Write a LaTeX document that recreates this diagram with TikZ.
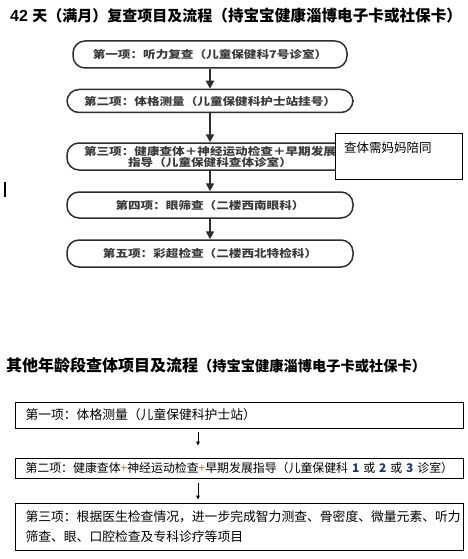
\documentclass[tikz,border=0pt]{standalone}
\usepackage{fontspec}
\setmainfont{Liberation Sans}
\newfontfamily\cjk{Noto Sans CJK SC}
\newfontfamily\cjkwide[FakeStretch=1.2]{Noto Sans CJK SC}
\usetikzlibrary{arrows.meta}
\definecolor{boxgray}{HTML}{2E2E2E}
\definecolor{textgray}{HTML}{3A3A3A}
\definecolor{plusorange}{HTML}{E46C0A}
\definecolor{numblue}{HTML}{1F3864}
\begin{document}
\begin{tikzpicture}[x=1pt,y=-1pt,
  rbox/.style={draw=boxgray, line width=1.5pt, rounded corners=12pt, minimum height=27pt,
    inner sep=0pt, text=textgray, align=center,
    font=\cjkwide\bfseries\fontsize{10.5}{11}\selectfont},
  tarrow/.style={draw=boxgray, line width=2pt, -{Triangle[length=8pt,width=8pt]}},
  sbox/.style={draw=black, line width=0.9pt, text width=428pt, inner xsep=10pt, inner ysep=0pt,
    minimum width=445pt, align=left, font=\cjk\fontsize{12.8}{20}\selectfont},
  sarrow/.style={draw=black, line width=0.8pt, -{Triangle[length=4pt,width=3.5pt]}}
]
\useasboundingbox (0,0) rectangle (467,559);

% title 1
\node[anchor=west, inner sep=0pt] (t1) at (10,16)
  {{\fontsize{16}{18}\selectfont\bfseries 42 }{\cjk\bfseries\fontsize{15}{18}\selectfont 天（满月）复查项目及流程}{\cjk\bfseries\fontsize{15.6}{18}\selectfont （持宝宝健康淄博电子卡或社保卡）}};

% top flow
\node[rbox, minimum width=274pt, minimum height=27pt] (b1) at (210,54.5) {第一项：听力复查（儿童保健科7号诊室）};
\node[rbox, minimum width=286pt, minimum height=23pt] (b2) at (210,101) {第二项：体格测量（儿童保健科护士站挂号）};
\node[rbox, minimum width=286pt, minimum height=27pt] (b3) at (210,156.5) {第三项：健康查体＋神经运动检查＋早期发展\\指导（儿童保健科查体诊室）};
\node[rbox, minimum width=286pt, minimum height=26pt] (b4) at (210,205) {第四项：眼筛查（二楼西南眼科）};
\node[rbox, minimum width=286pt, minimum height=27pt] (b5) at (210,253.5) {第五项：彩超检查（二楼西北特检科）};

\draw[tarrow] (b1) -- (b2);
\draw[tarrow] (b2) -- (b3);
\draw[tarrow] (b3) -- (b4);
\draw[tarrow] (b4) -- (b5);

% note
\node[draw=black, fill=white, line width=1pt, minimum width=127pt, minimum height=46pt, inner sep=0pt] (n) at (398.5,156) {};
\node[anchor=west, inner sep=0pt, font=\cjk\fontsize{12.5}{14}\selectfont] (nt) at (344,148) {查体需妈妈陪同};

% cursor mark
\draw[line width=1.5pt] (5,182) -- (5,197);

% title 2
\node[anchor=west, inner sep=0pt] (t2) at (6,365)
  {{\cjk\bfseries\fontsize{16}{18}\selectfont 其他年龄段查体项目及流程}{\cjk\bfseries\fontsize{14.25}{18}\selectfont （持宝宝健康淄博电子卡或社保卡）}};

% bottom flow
\node[sbox, minimum height=26pt] (c1) at (239.5,415) {第一项：体格测量（儿童保健科护士站）};
\node[sbox, minimum height=20pt, font=\cjk\fontsize{11.9}{20}\selectfont] (c2) at (239.5,468) {\mbox{第二项：健康查体{\color{plusorange}+}神经运动检查{\color{plusorange}+}早期发展指导（儿童保健科 {\bfseries\color{numblue}1} 或 {\bfseries\color{numblue}2} 或 {\bfseries\color{numblue}3} 诊室）}};
\node[sbox, minimum height=47pt] (c3) at (239.5,526.5) {第三项：根据医生检查情况，进一步完成智力测查、骨密度、微量元素、听力\\筛查、眼、口腔检查及专科诊疗等项目};

\coordinate (ax) at (198,0);
\draw[sarrow, shorten <=4pt, shorten >=12pt] (c1.south -| ax) -- (c2.north -| ax);
\draw[sarrow, shorten <=5pt, shorten >=3pt] (c2.south -| ax) -- (c3.north -| ax);
\end{tikzpicture}
\end{document}
